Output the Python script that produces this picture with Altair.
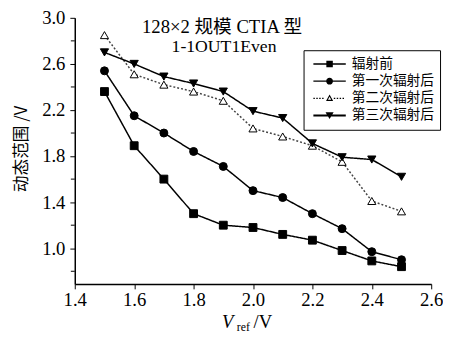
import altair as alt
import pandas as pd

# ---- data ----
SERIES = ["辐射前", "第一次辐射后", "第二次辐射后", "第三次辐射后"]
VREF = [1.5, 1.6, 1.7, 1.8, 1.9, 2.0, 2.1, 2.2, 2.3, 2.4, 2.5]
S_BEFORE = [2.36, 1.89, 1.60, 1.30, 1.20, 1.18, 1.12, 1.07, 0.98, 0.89, 0.84]
S_FIRST = [2.54, 2.15, 2.00, 1.84, 1.71, 1.50, 1.44, 1.30, 1.17, 0.97, 0.90]
S_SECOND = [2.85, 2.51, 2.42, 2.36, 2.28, 2.04, 1.97, 1.89, 1.75, 1.41, 1.32]
S_THIRD = [2.70, 2.60, 2.49, 2.43, 2.36, 2.19, 2.13, 1.91, 1.79, 1.77, 1.62]
X_TICKS = [1.4, 1.5, 1.6, 1.7, 1.8, 1.9, 2.0, 2.1, 2.2, 2.3, 2.4, 2.5, 2.6]
Y_LABELS = [1.0, 1.4, 1.8, 2.2, 2.6, 3.0]
Y_MINOR = [0.8, 1.2, 1.6, 2.0, 2.4, 2.8]
TITLE1 = "128×2 规模 CTIA 型"
TITLE2 = "1-1OUT1Even"
Y_TITLE = "动态范围 /V"

rows = []
for name, vals in zip(SERIES, [S_BEFORE, S_FIRST, S_SECOND, S_THIRD]):
    for x, y in zip(VREF, vals):
        rows.append({"series": name, "x": x, "y": y})
df = pd.DataFrame(rows)

SERIF = "Liberation Serif, Noto Sans CJK SC"
CJK = "Noto Sans CJK SC"

# legend symbols: line + marker, as custom paths (unit = half symbol width)
def dotted(x0, x1):
    out, x = [], x0
    while x + 0.09 <= x1 + 1e-9:
        out.append(f"M{x:.2f},-0.035H{x + 0.09:.2f}V0.035H{x:.2f}Z")
        x += 0.18
    return "".join(out)

thin = "M-1,-0.04H1V0.04H-1Z"
thick = "M-1,-0.065H1V0.065H-1Z"
P_SQUARE = thin + "M-0.2,-0.2H0.2V0.2H-0.2Z"
P_CIRCLE = thin + "M0.21,0A0.21,0.21,0,1,1,-0.21,0A0.21,0.21,0,1,1,0.21,0Z"
P_TRI_UP = dotted(-1, -0.26) + dotted(0.26, 1) + "M0,-0.24L0.22,0.16H-0.22ZM0,-0.1L-0.1,0.09H0.1Z"
P_TRI_DN = thick + "M-0.25,-0.2H0.25L0,0.22Z"

xs = alt.Scale(domain=[1.4, 2.6], nice=False, zero=False)
ys = alt.Scale(domain=[0.69, 3.0], nice=False, zero=False)

x_axis = alt.Axis(
    values=X_TICKS,
    labelExpr="(round(datum.value*10)%2==0) ? format(datum.value,'.1f') : ''",
    labelOverlap=False,
    title=None, grid=False, tickSize=5, tickColor="black", domainColor="black",
    domainWidth=1.5, tickWidth=1, labelFont=SERIF, labelFontSize=19,
    labelColor="black", labelPadding=2, labelFlush=False,
)
y_axis = alt.Axis(
    values=Y_LABELS, format=".1f",
    labelOverlap=False,
    title=Y_TITLE, titleFont=CJK, titleFontSize=17, titleFontWeight="normal",
    titleColor="black", titleX=-54, titleY=133, titleAngle=270,
    titleAlign="center", titleBaseline="middle",
    grid=False, tickSize=5, tickColor="black", domainColor="black",
    domainWidth=1.5, tickWidth=1, labelFont=SERIF, labelFontSize=19,
    labelColor="black", labelPadding=5, labelFlush=False,
)

lines = alt.Chart(df).mark_line().encode(
    x=alt.X("x:Q", scale=xs, axis=x_axis),
    y=alt.Y("y:Q", scale=ys, axis=y_axis),
    color=alt.Color("series:N", scale=alt.Scale(domain=SERIES, range=["black", "black", "#444444", "black"]), legend=None),
    strokeDash=alt.StrokeDash("series:N", scale=alt.Scale(domain=SERIES, range=[[1, 0], [1, 0], [2, 2], [1, 0]]), legend=None),
    strokeWidth=alt.StrokeWidth("series:N", scale=alt.Scale(domain=SERIES, range=[1.5, 1.5, 0.9, 2.1]), legend=None),
)

points = alt.Chart(df).mark_point(filled=True, stroke="black", strokeWidth=1, opacity=1).encode(
    x=alt.X("x:Q", scale=xs),
    y=alt.Y("y:Q", scale=ys),
    shape=alt.Shape("series:N", scale=alt.Scale(domain=SERIES, range=["square", "circle", "triangle-up", "triangle-down"]), legend=None),
    fill=alt.Fill("series:N", scale=alt.Scale(domain=SERIES, range=["black", "black", "white", "black"]), legend=None),
    size=alt.Size("series:N", scale=alt.Scale(domain=SERIES, range=[64, 70, 50, 90]), legend=None),
)

minor_y = alt.Chart(alt.Data(values=[{"v": v} for v in Y_MINOR])).mark_rule(
    color="black", strokeWidth=1
).encode(y=alt.Y("v:Q", scale=ys), x=alt.value(-4), x2=alt.value(0))

legend_layer = alt.Chart(df).transform_filter("datum.y > 100").mark_point(
    filled=True, color="black", size=1089
).encode(
    shape=alt.Shape(
        "series:N",
        scale=alt.Scale(domain=SERIES, range=[P_SQUARE, P_CIRCLE, P_TRI_UP, P_TRI_DN]),
        legend=alt.Legend(
            orient="none", legendX=233, legendY=33, title=None,
            symbolSize=1089, symbolFillColor="black", symbolStrokeWidth=0,
            symbolOpacity=1, clipHeight=16, rowPadding=1.5, padding=6,
            symbolOffset=4, labelOffset=6, labelFont=CJK, labelFontSize=14,
            labelColor="black", labelLimit=200, strokeColor="black",
            fillColor="white", cornerRadius=0,
        ),
    )
)

def text_layer(txt, x, y, font, size, style="normal", align="center", baseline="middle"):
    return alt.Chart(alt.Data(values=[{"t": txt}])).mark_text(
        font=font, fontSize=size, fontStyle=style, align=align, baseline=baseline, color="black"
    ).encode(text="t:N", x=alt.value(x), y=alt.value(y))

t1 = text_layer(TITLE1, 150, 9, SERIF, 19)
t2 = text_layer(TITLE2, 152, 30, SERIF, 18)
xt1 = text_layer("V", 150, 316, SERIF, 19, style="italic", align="left", baseline="alphabetic")
xt2 = text_layer("ref", 165, 319, SERIF, 12, align="left", baseline="alphabetic")
xt3 = text_layer("/V", 182, 316, SERIF, 19, align="left", baseline="alphabetic")

chart = alt.layer(lines, points, minor_y, legend_layer, t1, t2, xt1, xt2, xt3).resolve_scale(
    shape="independent"
).properties(
    width=363, height=271,
    autosize=alt.AutoSizeParams(type="none"),
    padding={"left": 68, "top": 7, "right": 12, "bottom": 50},
).configure_view(stroke=None)

chart.save("out.html", embed_options={"renderer": "svg", "actions": False})
